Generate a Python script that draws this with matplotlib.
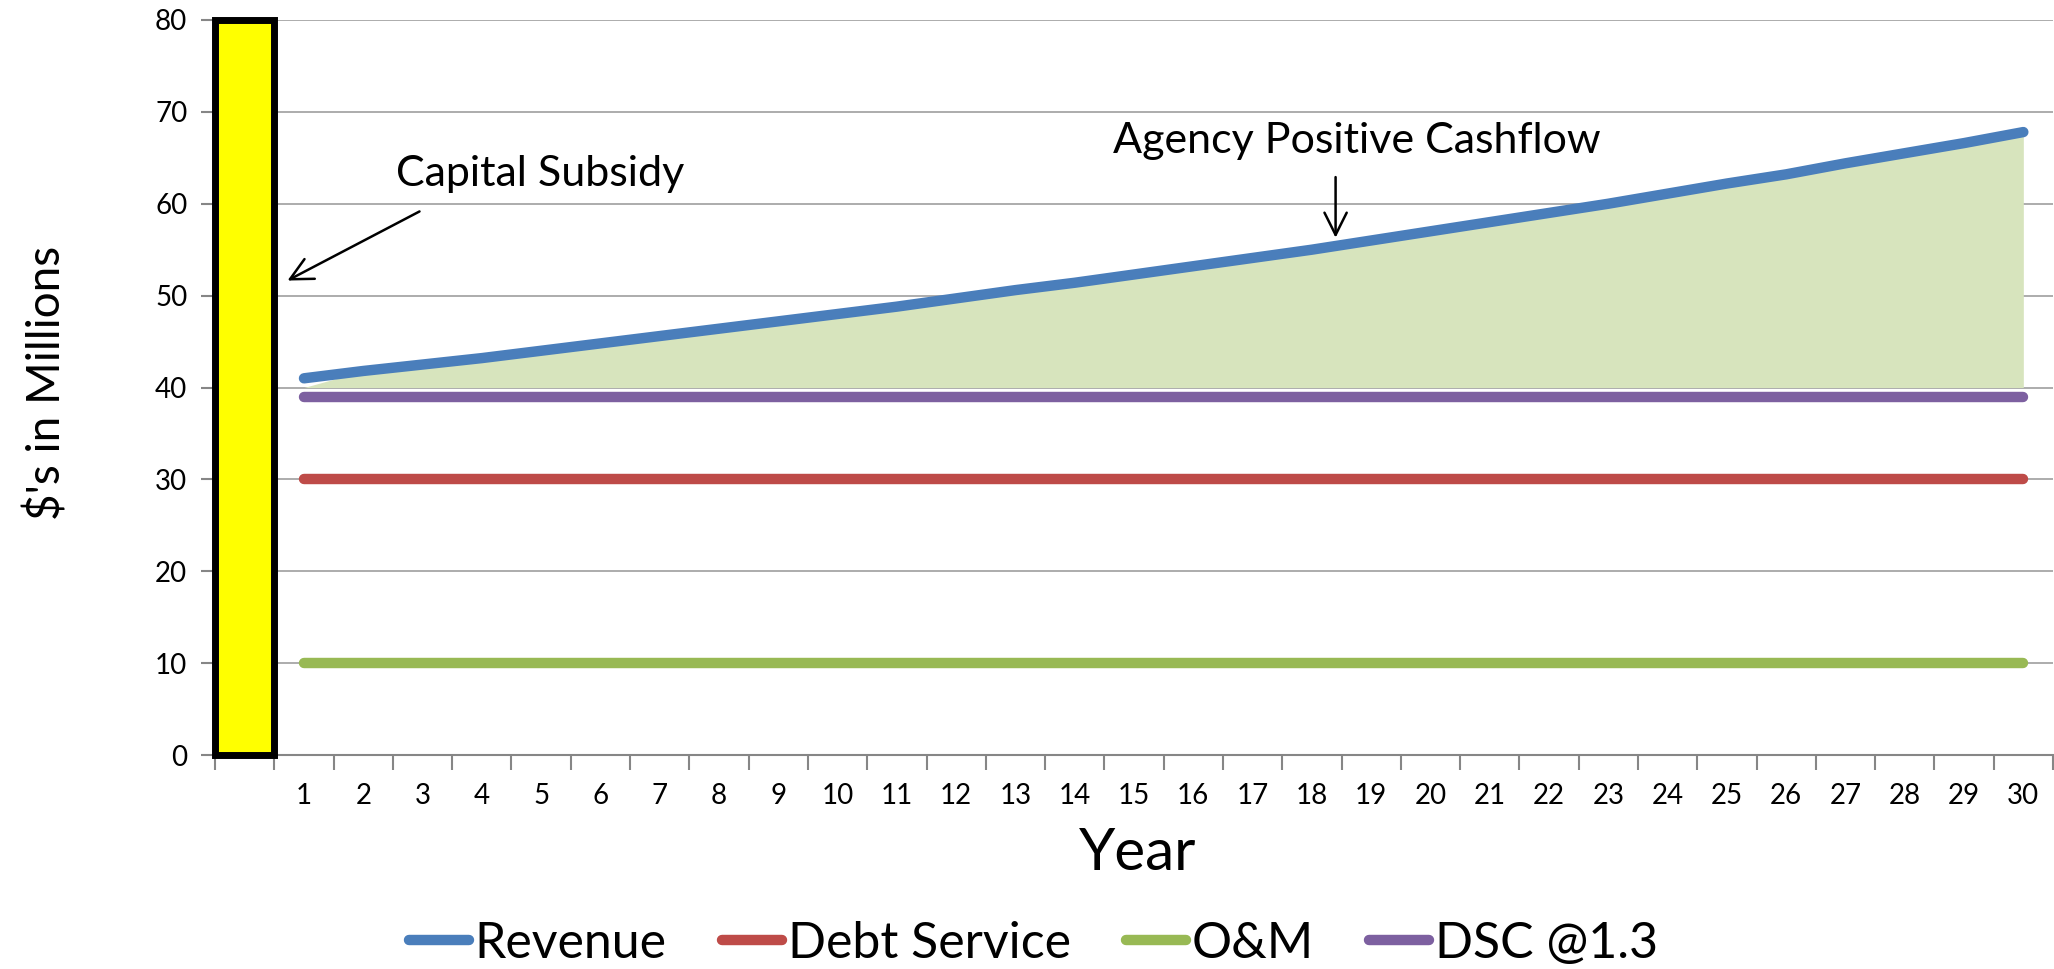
import matplotlib.pyplot as plt
import numpy as np

plt.rcParams['font.family'] = ['Lato', 'DejaVu Sans']

# data ($ millions)
years = list(range(1, 31))
revenue = [41.0, 41.8, 42.5, 43.2, 44.0, 44.8, 45.6, 46.4, 47.2, 48.0,
           48.8, 49.7, 50.6, 51.4, 52.3, 53.2, 54.1, 55.0, 56.0, 57.0,
           58.0, 59.0, 60.0, 61.1, 62.2, 63.2, 64.4, 65.5, 66.6, 67.8]
debt_service = [30] * 30
om = [10] * 30
dsc = [39] * 30
cashflow_top = [40.0] + revenue[1:]
cashflow_base = 40
capital_subsidy = 80

colors = {
    'Revenue': '#4A7EBB',
    'Debt Service': '#BE4B48',
    'O&M': '#98B954',
    'DSC @1.3': '#7D60A0',
}

fig = plt.figure(figsize=(20.54, 9.69), dpi=100)
ax = fig.add_axes([0.1047, 0.2208, 0.8948, 0.7586])

ax.set_xlim(-0.5, 30.5)
ax.set_ylim(0, 80)

# capital subsidy bar in the empty first slot
ax.bar(0, capital_subsidy, width=1.0, color='#FFFF00', edgecolor='black',
       linewidth=5, clip_on=False, zorder=3)

# agency positive cashflow area
ax.fill_between(years, cashflow_base, cashflow_top, color='#D7E4BD',
                linewidth=0, zorder=2)

series = [('Revenue', revenue), ('Debt Service', debt_service),
          ('O&M', om), ('DSC @1.3', dsc)]
for name, vals in series:
    ax.plot(years, vals, color=colors[name], lw=7.5, label=name,
            solid_capstyle='round', zorder=4)

ax.yaxis.grid(True, color='#A6A6A6', lw=1.3)
ax.set_axisbelow(True)
for s in ['top', 'right']:
    ax.spines[s].set_visible(False)
for s in ['left', 'bottom']:
    ax.spines[s].set_color('#868686')
    ax.spines[s].set_linewidth(1.5)

ax.set_yticks(np.arange(0, 81, 10))
ax.tick_params(axis='y', length=10, width=1.5, color='#868686',
               labelsize=20, pad=10)

ax.set_xticks(np.arange(-0.5, 31, 1))
ax.set_xticks(years, minor=True)
ax.set_xticklabels([str(y) for y in years], minor=True)
ax.tick_params(axis='x', which='major', length=11, width=1.5,
               color='#868686', labelbottom=False)
ax.tick_params(axis='x', which='minor', length=0, labelsize=20, pad=20)

fig.text(0.0224, 0.605, "$'s in Millions", rotation=90, fontsize=33,
         ha='center', va='center')
fig.text(0.554, 0.119, 'Year', fontsize=42, ha='center', va='center')

arrow = dict(arrowstyle='->', color='black', lw=1.8, mutation_scale=40)
ax.annotate('', xy=(0.68, 51.5), xytext=(2.99, 59.3), arrowprops=arrow)
ax.text(4.98, 63.2, 'Capital Subsidy', fontsize=31, ha='center',
        va='center')
ax.annotate('', xy=(18.4, 56.0), xytext=(18.4, 63.2), arrowprops=arrow)
ax.text(18.76, 66.8, 'Agency Positive Cashflow', fontsize=31,
        ha='center', va='center')

fig.legend(loc='center', bbox_to_anchor=(0.503, 0.026), ncol=4,
           frameon=False, fontsize=36, handlelength=1.2,
           handletextpad=0.12, columnspacing=1.1)

fig.savefig('out.png', dpi=100)
